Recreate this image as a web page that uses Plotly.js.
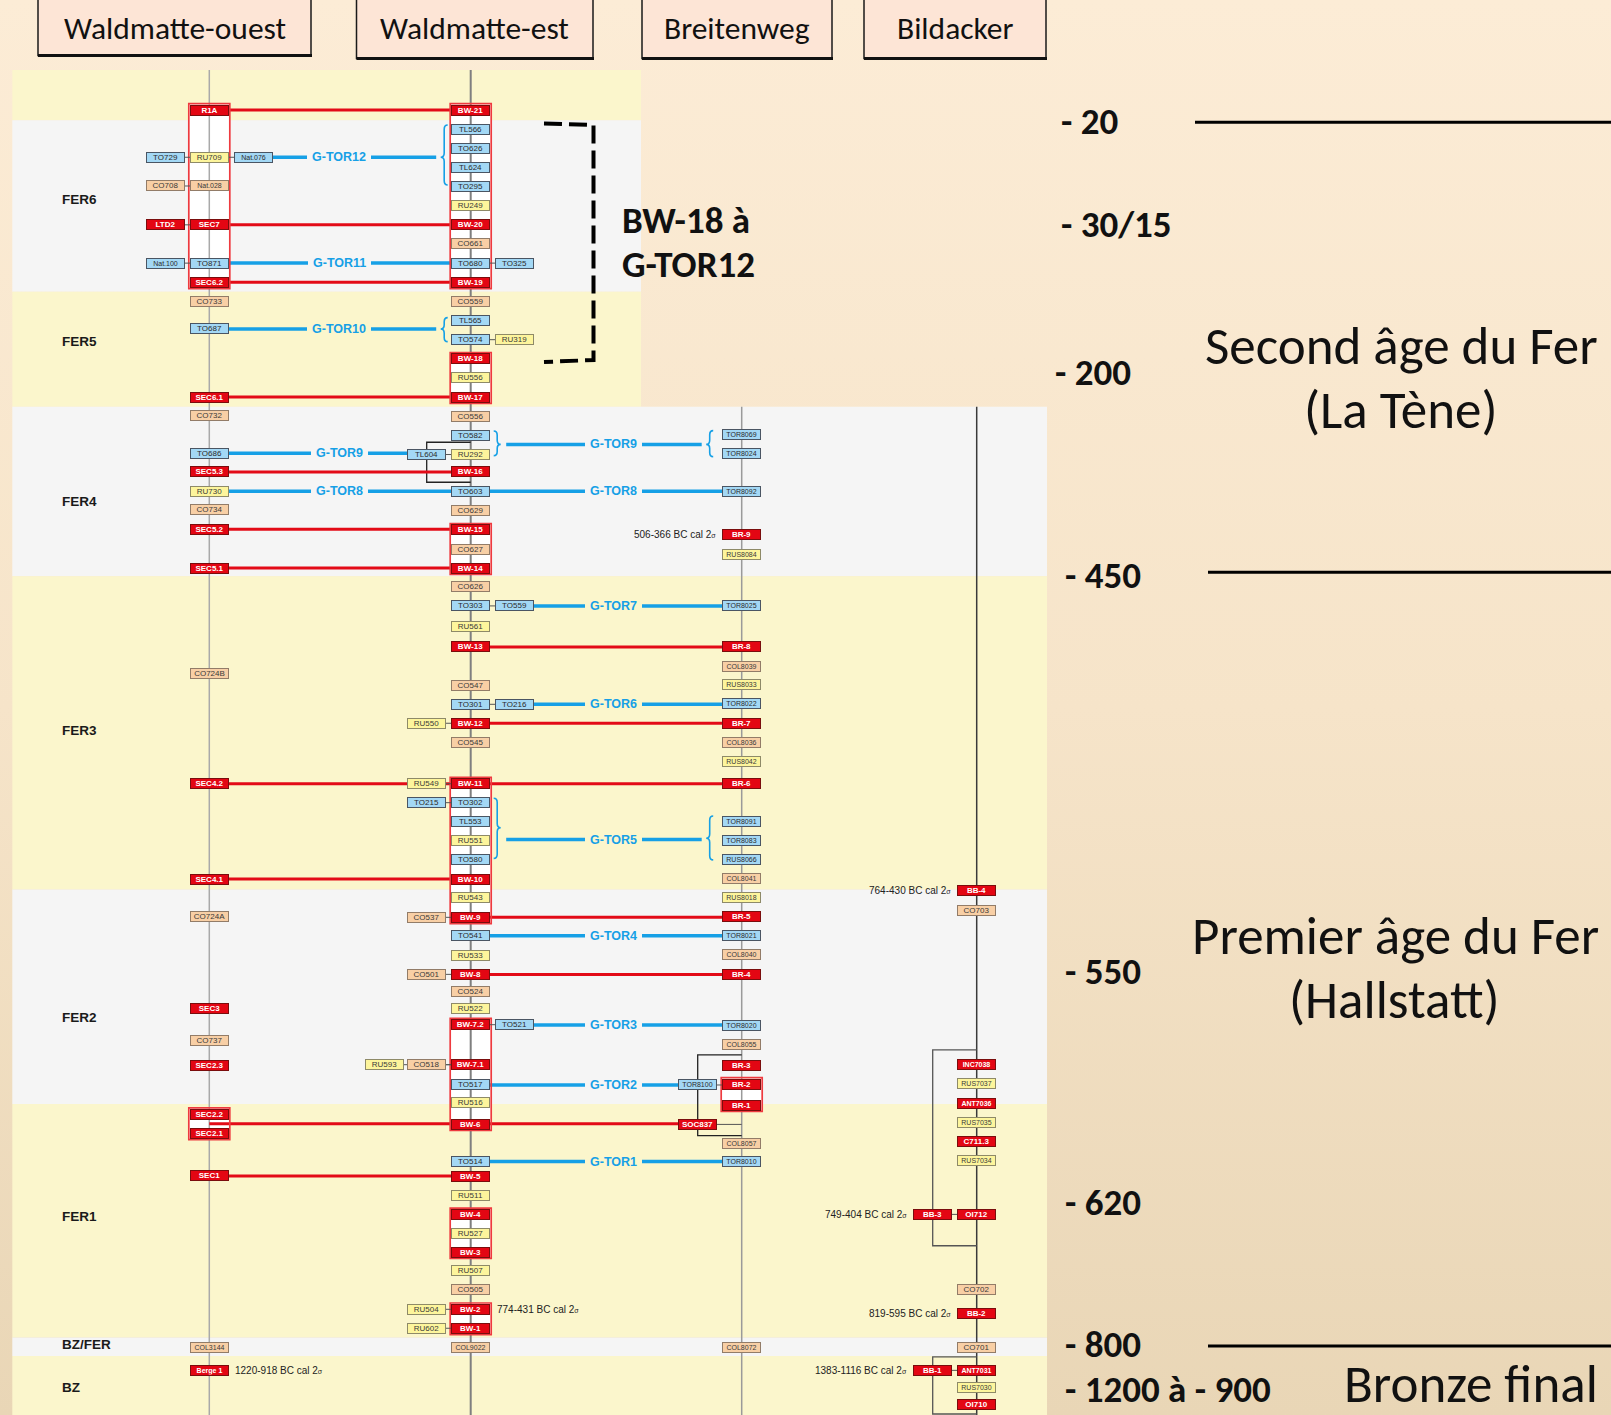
<!DOCTYPE html>
<html>
<head>
<meta charset="utf-8">
<script src="https://cdn.plot.ly/plotly-3.0.1.min.js"></script>
<style>
html,body{margin:0;padding:0;background:#fbead3;}
#chart{width:1611px;height:1415px;}
</style>
</head>
<body>
<div id="chart"></div>
<script>
// ================= DATA =================
const SITES = ['Waldmatte-ouest', 'Waldmatte-est', 'Breitenweg', 'Bildacker'];
const SITE_KEYS = ['WO', 'WE', 'BR', 'BI'];

// Sample types: R = dated (red), B = blue, Y = yellow, O = orange
// side: 0 on the column, -1 left, +1 right, -2 far left
const wo_labels = ['R1A','TO729','RU709','Nat.076','CO708','Nat.028','LTD2','SEC7','Nat.100','TO871',
  'SEC6.2','CO733','TO687','SEC6.1','CO732','TO686','SEC5.3','RU730','CO734','SEC5.2',
  'SEC5.1','CO724B','SEC4.2','SEC4.1','CO724A','SEC3','CO737','SEC2.3','SEC2.2','SEC2.1',
  'SEC1','COL3144','Berge 1'];
const wo_rows = [0,2.47,2.47,2.47,3.97,3.97,6,6,8,8,
  9,10,11.44,15,15.94,17.94,18.91,19.92,20.85,21.91,
  23.93,29.42,35.2,40.18,42.15,46.93,48.59,49.93,52.47,53.46,
  55.69,64.65,65.87];
const wo_types = ['R','B','Y','B','O','O','R','R','B','B',
  'R','O','B','R','O','B','R','Y','O','R',
  'R','O','R','R','O','R','O','R','R','R',
  'R','O','R'];
const wo_sides = [0,-1,0,1,-1,0,-1,0,-1,0,
  0,0,0,0,0,0,0,0,0,0,
  0,0,0,0,0,0,0,0,0,0,
  0,0,0];

const we_labels = ['BW-21','TL566','TO626','TL624','TO295','RU249','BW-20','CO661','TO680','TO325',
  'BW-19','CO559','TL565','TO574','RU319','BW-18','RU556','BW-17','CO556','TO582',
  'TL604','RU292','BW-16','TO603','CO629','BW-15','CO627','BW-14','CO626','TO303',
  'TO559','RU561','BW-13','CO547','TO301','TO216','RU550','BW-12','CO545','RU549',
  'BW-11','TO215','TO302','TL553','RU551','TO580','BW-10','RU543','CO537','BW-9',
  'TO541','RU533','CO501','BW-8','CO524','RU522','BW-7.2','TO521','RU593','CO518',
  'BW-7.1','TO517','RU516','BW-6','TO514','BW-5','RU511','BW-4','RU527','BW-3',
  'RU507','CO505','RU504','BW-2','RU602','BW-1','COL9022'];
const we_rows = [0,1,2,3,4,5,6,7,8,8,
  9,10,11,12,12,13,14,15,16,17,
  18,18,18.91,19.92,20.94,21.94,22.94,23.93,24.9,25.91,
  25.91,27.0,28.05,30.06,31.05,31.05,32.04,32.04,33.03,35.2,
  35.2,36.19,36.19,37.18,38.18,39.18,40.18,41.14,42.18,42.18,
  43.14,44.15,45.16,45.16,46.03,46.93,47.79,47.79,49.88,49.88,
  49.88,50.94,51.84,52.98,54.93,55.71,56.72,57.7,58.69,59.67,
  60.64,61.64,62.66,62.66,63.65,63.65,64.67];
const we_types = ['R','B','B','B','B','Y','R','O','B','B',
  'R','O','B','B','Y','R','Y','R','O','B',
  'B','Y','R','B','O','R','O','R','O','B',
  'B','Y','R','O','B','B','Y','R','O','Y',
  'R','B','B','B','Y','B','R','Y','O','R',
  'B','Y','O','R','O','Y','R','B','Y','O',
  'R','B','Y','R','B','R','Y','R','Y','R',
  'Y','O','Y','R','Y','R','O'];
const we_sides = [0,0,0,0,0,0,0,0,0,1,
  0,0,0,0,1,0,0,0,0,0,
  -1,0,0,0,0,0,0,0,0,0,
  1,0,0,0,0,1,-1,0,0,-1,
  0,-1,0,0,0,0,0,0,-1,0,
  0,0,-1,0,0,0,0,1,-2,-1,
  0,0,0,0,0,0,0,0,0,0,
  0,0,-1,0,-1,0,0];

const br_labels = ['TOR8069','TOR8024','TOR8092','BR-9','RUS8084','TOR8025','BR-8','COL8039','RUS8033','TOR8022',
  'BR-7','COL8036','RUS8042','BR-6','TOR8091','TOR8083','RUS8066','COL8041','RUS8018','BR-5',
  'TOR8021','COL8040','BR-4','TOR8020','COL8055','BR-3','TOR8100','BR-2','BR-1','SOC837',
  'COL8057','TOR8010','COL8072'];
const br_rows = [16.94,17.94,19.94,22.2,23.21,25.9,28.04,29.05,30.04,31.03,
  32.03,33.03,34.03,35.2,37.18,38.18,39.15,40.16,41.15,42.16,
  43.14,44.11,45.18,47.81,48.8,49.91,50.94,50.89,51.99,53.0,
  54.02,54.95,64.65];
const br_types = ['B','B','B','R','Y','B','R','O','Y','B',
  'R','O','Y','R','B','B','B','O','Y','R',
  'B','O','R','B','O','R','B','R','R','R',
  'O','B','O'];
const br_sides = [0,0,0,0,0,0,0,0,0,0,
  0,0,0,0,0,0,0,0,0,0,
  0,0,0,0,0,0,-1,0,0,-1,
  0,0,0];

const bi_labels = ['BB-4','CO703','INC7038','RUS7037','ANT7036','RUS7035','C711.3','RUS7034','BB-3','OI712',
  'CO702','BB-2','CO701','BB-1','ANT7031','RUS7030','OI710'];
const bi_rows = [40.77,41.81,49.88,50.87,51.9,52.89,53.88,54.87,57.7,57.7,
  61.65,62.9,64.65,65.85,65.85,66.75,67.62];
const bi_types = ['R','O','R','Y','R','Y','R','Y','R','R',
  'O','R','O','R','R','Y','R'];
const bi_sides = [0,0,0,0,0,0,0,0,-1,0,
  0,0,0,-1,0,0,0];

// Red synchronisation links (dated)
const link_rows = [0,6,9,15,18.91,21.91,23.93,28.05,32.04,35.2,40.18,42.17,45.17,52.96,55.7];
const link_from = ['WO','WO','WO','WO','WO','WO','WO','WE','WE','WO','WO','WE','WE','WO','WO'];
const link_to   = ['WE','WE','WE','WE','WE','WE','WE','BR','BR','BR','WE','BR','BR','BR-1','WE'];

// Red groups (framed sequences)
const grp_site   = ['WO','WE','WE','WE','WE','WE','WE','WE','WO','BR'];
const grp_top    = [0,0,13,21.94,35.2,47.79,57.7,62.66,52.47,50.89];
const grp_bottom = [9,9,15,23.93,42.18,52.98,59.67,63.65,53.46,51.99];

// Blue G-TOR correlations
const gtor_names = ['G-TOR12','G-TOR11','G-TOR10','G-TOR9','G-TOR9','G-TOR8','G-TOR8','G-TOR7','G-TOR6','G-TOR5','G-TOR4','G-TOR3','G-TOR2','G-TOR1'];
const gtor_rows  = [2.47,8,11.44,17.94,17.47,19.92,19.92,25.91,31.05,38.12,43.14,47.8,50.94,54.94];
const gtor_from  = ['WO+1','WO','WO','WO','WE}','WO','WE','WE+1','WE+1','WE}','WE','WE+1','WE','WE'];
const gtor_to    = ['WE{','WE','WE{','WE-1','BR{','WE','BR','BR','BR','BR{','BR','BR','BR-1','BR'];

// Curly braces grouping samples
const brace_site   = ['WE','WE','WE','BR','WE','BR'];
const brace_dir    = [-1,-1,1,-1,1,-1];
const brace_top    = [0.78,10.85,16.77,16.75,35.96,36.89];
const brace_bottom = [3.92,12.1,18.06,18.11,39.1,39.18];
const brace_tip    = [2.47,11.44,17.47,17.47,37.5,38.05];

// Thin black brackets
const brk_site   = ['WE','BR','BI','BI'];
const brk_top    = [17.36,49.37,49.11,65.14];
const brk_bottom = [19.45,53.59,59.34,68.13];

// Radiocarbon dates
const date_texts = ['1220-918 BC cal 2σ','774-431 BC cal 2σ','506-366 BC cal 2σ','764-430 BC cal 2σ','749-404 BC cal 2σ','819-595 BC cal 2σ','1383-1116 BC cal 2σ'];
const date_of    = ['Berge 1','BW-2','BR-9','BB-4','BB-3','BB-2','BB-1'];
const date_side  = [1,1,-1,-1,-1,-1,-1];

// Periods (bands)
const period_names = ['', 'FER6','FER5','FER4','FER3','FER2','FER1','BZ/FER','BZ'];
const period_start = [-2.09,0.53,9.5,15.5,24.36,40.73,51.93,64.13,65.1];
const period_end   = [0.53,9.5,15.5,24.36,40.73,51.93,64.13,65.1,68.3];
const period_label_rows = [null,4.65,12.12,20.45,32.42,47.39,57.81,64.52,66.72];

// Right-hand chronology
const chrono_labels = ['- 20','- 30/15','- 200','- 450','- 550','- 620','- 800','- 1200 à - 900'];
const era_labels = ['Second âge du Fer','(La Tène)','Premier âge du Fer','(Hallstatt)','Bronze final'];

// ================= LAYOUT CONSTANTS =================
const W = 1611, H = 1415;
const PX_ROW0 = 110, PX_PER_ROW = 19.14;
const R = px => (px - PX_ROW0) / PX_PER_ROW;
const P = px => 1 - px / H;
const SITE_X = {WO:209.3, WE:470.7, BR:741.7, BI:976.7};
const SIDE_DX = 44;
const BRACE_DX = {WE:26.5, BR:32};
const GAP_LABEL_X = {WO:339, WE:613};
const BOX_W = 36, BOX_H = 8;
const FILL   = {R:'#e30613', B:'#a3d8f5', Y:'#fdf59c', O:'#f8cfa5'};
const BORDER = {R:'#7a0d0d', B:'#4a5563', Y:'#8e8a68', O:'#927c68'};
const TEXTC  = {R:'#ffffff', B:'#2b2b2b', Y:'#3a3a3a', O:'#3a3a3a'};
const BAND_COL = ['#fbf6cc', '#f5f5f5'];
const RED = '#e30b17', BLUE = '#16a0e6';
const BOX_FONT = 'Liberation Sans, Arial, sans-serif';
const TITLE_FONT = 'Carlito, Calibri, Lato, sans-serif';

// ================= BUILD =================
const shapes = [];
const anns = [];
const pos = {};

function sampleX(site, side) {
  if (side === -2) return SITE_X[site] - 2 * SIDE_DX + 2;
  return SITE_X[site] + side * SIDE_DX;
}
function anchorX(a) {
  const m = a.match(/^(WO|WE|BR|BI)(\+1|-1|\{|\})?$/);
  const s = m[1], suf = m[2] || '';
  if (suf === '+1') return SITE_X[s] + SIDE_DX;
  if (suf === '-1') return SITE_X[s] - SIDE_DX;
  if (suf === '{') return SITE_X[s] - BRACE_DX[s] - 8;
  if (suf === '}') return SITE_X[s] + BRACE_DX[s] + 9;
  return SITE_X[s];
}
function bandIndex(row) {
  for (let i = 0; i < period_start.length; i++) if (row >= period_start[i] && row < period_end[i]) return i;
  return 0;
}
function bandRight(i) { return i <= 2 ? 641 : 1047; }
const line = (x0, y0, x1, y1, color, width, extra) => Object.assign({type:'line', xref:'x', yref:'y', x0, y0, x1, y1, line:{color, width}, layer:'above'}, extra || {});

// bands
for (let i = 0; i < period_names.length; i++) {
  shapes.push({type:'rect', xref:'x', yref:'y', x0:12.3, x1:bandRight(i), y0:period_start[i], y1:period_end[i],
    fillcolor:BAND_COL[i % 2], line:{width:0}, layer:'above'});
}
// group white fill
for (let i = 0; i < grp_site.length; i++) {
  const x = SITE_X[grp_site[i]];
  shapes.push({type:'rect', xref:'x', yref:'y', x0:x - 20.5, x1:x + 20.5, y0:grp_top[i] - 0.33, y1:grp_bottom[i] + 0.33,
    fillcolor:'#ffffff', line:{width:0}, layer:'above'});
}
// column lines
const colStyle = {WO:['#a9a9a9',1.5], WE:['#7f7f7f',2], BR:['#9a9a9a',1.5], BI:['#3a3a3a',1.5]};
SITE_KEYS.forEach(k => {
  const top = (k === 'WO' || k === 'WE') ? period_start[0] : period_start[3];
  shapes.push(line(SITE_X[k], top, SITE_X[k], R(H + 5), colStyle[k][0], colStyle[k][1]));
});

// samples
function addSamples(site, labels, rows, types, sides) {
  for (let i = 0; i < labels.length; i++) {
    const t = types[i];
    const x = sampleX(site, sides[i]);
    pos[labels[i]] = {x, y: rows[i]};
    if (sides[i] !== 0) shapes.push(line(x, rows[i], SITE_X[site], rows[i], '#555555', 1));
    anns.push({x, y: rows[i], xref:'x', yref:'y', text: t === 'R' ? '<b>' + labels[i] + '</b>' : labels[i],
      showarrow:false, xanchor:'center', yanchor:'middle', width:BOX_W, height:BOX_H,
      bgcolor:FILL[t], bordercolor:BORDER[t], borderwidth:1, borderpad:0.5,
      font:{family:BOX_FONT, size: labels[i].length > 6 ? 7 : 8, color:TEXTC[t]}});
  }
}

// black brackets
for (let i = 0; i < brk_site.length; i++) {
  const x = SITE_X[brk_site[i]], xl = x - SIDE_DX;
  shapes.push({type:'path', xref:'x', yref:'y', layer:'above',
    path:`M ${x},${brk_top[i]} L ${xl},${brk_top[i]} L ${xl},${brk_bottom[i]} L ${x},${brk_bottom[i]}`,
    line:{color: brk_site[i] === 'BI' ? '#555555' : '#222222', width:1.3}});
}

// red links
for (let i = 0; i < link_rows.length; i++) {
  shapes.push(line(anchorX(link_from[i]), link_rows[i], anchorX(link_to[i]), link_rows[i], RED, 3));
}
// blue G-TOR lines + labels
for (let i = 0; i < gtor_names.length; i++) {
  const x0 = anchorX(gtor_from[i]), x1 = anchorX(gtor_to[i]), y = gtor_rows[i];
  shapes.push(line(x0, y, x1, y, BLUE, 3.5));
  const gap = gtor_from[i].slice(0, 2);
  anns.push({x: GAP_LABEL_X[gap], y, xref:'x', yref:'y', text:'<b>' + gtor_names[i] + '</b>', showarrow:false,
    xanchor:'center', yanchor:'middle', bgcolor: BAND_COL[bandIndex(y) % 2], borderpad:5, borderwidth:0,
    font:{family:BOX_FONT, size:12.5, color:BLUE}});
}
// braces
for (let i = 0; i < brace_site.length; i++) {
  const d = brace_dir[i];
  const xs = SITE_X[brace_site[i]] + d * BRACE_DX[brace_site[i]];
  const yt = brace_top[i], yb = brace_bottom[i], ym = brace_tip[i], r = 0.22, c = 3.5, t = 3.5;
  const path = `M ${xs - d * c},${yt} Q ${xs},${yt} ${xs},${yt + r} L ${xs},${ym - r} Q ${xs},${ym} ${xs + d * t},${ym} ` +
    `Q ${xs},${ym} ${xs},${ym + r} L ${xs},${yb - r} Q ${xs},${yb} ${xs - d * c},${yb}`;
  shapes.push({type:'path', xref:'x', yref:'y', layer:'above', path, line:{color:BLUE, width:1.6}});
}
// group outlines
for (let i = 0; i < grp_site.length; i++) {
  const x = SITE_X[grp_site[i]];
  shapes.push({type:'rect', xref:'x', yref:'y', x0:x - 20.5, x1:x + 20.5, y0:grp_top[i] - 0.33, y1:grp_bottom[i] + 0.33,
    line:{color:'#ee3a3f', width:1.7}, layer:'above'});
}

addSamples('WO', wo_labels, wo_rows, wo_types, wo_sides);
addSamples('WE', we_labels, we_rows, we_types, we_sides);
addSamples('BR', br_labels, br_rows, br_types, br_sides);
addSamples('BI', bi_labels, bi_rows, bi_types, bi_sides);

// dates
for (let i = 0; i < date_texts.length; i++) {
  const p = pos[date_of[i]];
  const right = date_side[i] > 0;
  anns.push({x: right ? p.x + 24 : p.x - 24, y: p.y, xref:'x', yref:'y', showarrow:false,
    xanchor: right ? 'left' : 'right', yanchor:'middle',
    text: date_texts[i].replace('σ', '<span style="font-size:7px">σ</span>'),
    font:{family:BOX_FONT, size:10, color:'#222222'}});
}
// period labels
for (let i = 1; i < period_names.length; i++) {
  anns.push({x:60, y:period_label_rows[i], xref:'x', yref:'y', showarrow:false, xanchor:'left', yanchor:'middle',
    text:'<b>' + period_names[i] + '</b>', font:{family:BOX_FONT, size:13.5, color:'#1a1a1a'}});
}

// headers
const HEADER_BOX = [[38,311,55.5],[356.5,593,58.5],[642,832,58.5],[864,1046,58.5]];
SITES.forEach((s, i) => {
  const [a, b, bot] = HEADER_BOX[i];
  shapes.push({type:'rect', xref:'x', yref:'paper', x0:a, x1:b, y0:P(bot), y1:P(-3), fillcolor:'#fde5d6',
    line:{color:'#1a1a1a', width:1.5}, layer:'above'});
  shapes.push({type:'line', xref:'x', yref:'paper', x0:a, x1:b + 1, y0:P(bot), y1:P(bot), line:{color:'#111', width:3}, layer:'above'});
  anns.push({x:(a + b) / 2, y:P(28), xref:'x', yref:'paper', showarrow:false, xanchor:'center', yanchor:'middle',
    text:s, font:{family:TITLE_FONT, size:31.5, color:'#111111'}});
});

// dashed bracket BW-18 -> G-TOR12
shapes.push({type:'path', xref:'x', yref:'y', layer:'above',
  path:`M 544,${R(123.5)} L 593.5,${R(125)} L 593.5,${R(360)} L 544,${R(362)}`,
  line:{color:'#000000', width:4, dash:'18px,7px'}});
anns.push({x:620, y:R(220), xref:'x', yref:'y', showarrow:false, xanchor:'left', yanchor:'middle',
  text:'<b>BW-18 à</b>', font:{family:TITLE_FONT, size:37, color:'#111'}});
anns.push({x:620, y:R(264), xref:'x', yref:'y', showarrow:false, xanchor:'left', yanchor:'middle',
  text:'<b>G-TOR12</b>', font:{family:TITLE_FONT, size:37, color:'#111'}});

// right-hand chronology
const CHRONO_POS = [[1059,121],[1059,224],[1053,372],[1063,575.5],[1063,971],[1063,1202],[1063,1344],[1063,1389]];
chrono_labels.forEach((t, i) => {
  anns.push({x:CHRONO_POS[i][0], y:R(CHRONO_POS[i][1]), xref:'x', yref:'y', showarrow:false, xanchor:'left', yanchor:'middle',
    text:'<b>' + t + '</b>', font:{family:TITLE_FONT, size:37, color:'#111'}});
});
const ERA_POS = [[1401,346,'center'],[1401,410,'center'],[1395,936,'center'],[1394,1000,'center'],[1600,1384,'right']];
era_labels.forEach((t, i) => {
  anns.push({x:ERA_POS[i][0], y:R(ERA_POS[i][1]), xref:'x', yref:'y', showarrow:false, xanchor:ERA_POS[i][2], yanchor:'middle',
    text:t, font:{family:TITLE_FONT, size:53, color:'#111'}});
});
[[1195,122.3],[1208,572.3],[1208,1346]].forEach(([x0, y]) => {
  shapes.push(line(x0, R(y), W + 5, R(y), '#000000', 3));
});

// background gradient
const bg = {type:'scatter', x:[0, W, W, 0, 0], y:[R(0), R(0), R(H), R(H), R(0)], fill:'toself', mode:'none',
  hoverinfo:'skip', showlegend:false,
  fillcolor:'#f6e4ca',
  fillgradient:{type:'vertical', start:R(0), stop:R(H), colorscale:[[0,'#fcecd6'],[0.5,'#f6e4c9'],[1,'#e9d6b6']]}};

const layout = {
  width:W, height:H, margin:{l:0, r:0, t:0, b:0},
  paper_bgcolor:'#fbead3', plot_bgcolor:'rgba(0,0,0,0)', showlegend:false,
  xaxis:{range:[0, W], visible:false, fixedrange:true},
  yaxis:{range:[R(H), R(0)], visible:false, fixedrange:true},
  shapes, annotations:anns
};
Plotly.newPlot('chart', [bg], layout, {displayModeBar:false, staticPlot:true});
</script>
</body>
</html>
